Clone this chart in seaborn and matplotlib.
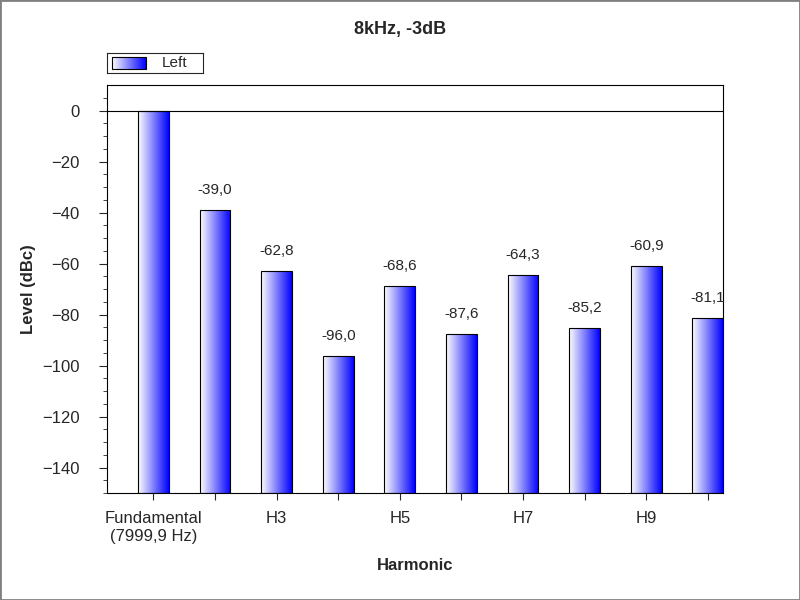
import numpy as np
import pandas as pd
import matplotlib
matplotlib.use('Agg')
import matplotlib.pyplot as plt
import seaborn as sns
from matplotlib.colors import LinearSegmentedColormap
from matplotlib.patches import Rectangle

harmonics = ['Fundamental\n(7999,9 Hz)', 'H2', 'H3', 'H4', 'H5', 'H6', 'H7', 'H8', 'H9', 'H10']
levels = [0.0, -39.0, -62.8, -96.0, -68.6, -87.6, -64.3, -85.2, -60.9, -81.1]
tick_labels = ['Fundamental\n(7999,9 Hz)', '', 'H3', '', 'H5', '', 'H7', '', 'H9', '']

base = -150
df = pd.DataFrame({'harmonic': harmonics, 'height': [v - base for v in levels]})

sns.set_style('white')
plt.rcParams['font.family'] = ['Liberation Sans', 'DejaVu Sans']

fig = plt.figure(figsize=(8, 6), dpi=100)
ax = fig.add_axes([0.134, 0.178, 0.770, 0.680])
sns.barplot(data=df, x='harmonic', y='height', bottom=base, width=0.5,
            color='#0000ff', ax=ax)

cmap = LinearSegmentedColormap.from_list('g', ['#ffffff', '#0000ff'])
grad = np.linspace(0, 1, 256).reshape(1, -1)
for p in ax.patches:
    x0, y0 = p.get_x(), p.get_y()
    w, h = p.get_width(), p.get_height()
    im = ax.imshow(grad, cmap=cmap, aspect='auto', extent=[x0, x0 + w, y0, y0 + h], zorder=2)
    im.set_clip_path(p)
    p.set_facecolor('none')
    p.set_edgecolor('black')
    p.set_linewidth(0.8)
    p.set_zorder(3)

for i, v in enumerate(levels):
    if i == 0:
        continue
    ax.text(i, v + 5, f'{v:.1f}'.replace('.', ','), ha='center', va='bottom', fontsize=11)

ax.axhline(0, color='black', lw=0.8, zorder=4)
ax.set_xlim(-0.75, 9.25)
ax.set_ylim(-150, 10)
ax.set_xticks(range(len(harmonics)))
ax.set_xticklabels(tick_labels, fontsize=12)
ax.set_yticks(np.arange(-140, 1, 20))
ax.set_yticks(np.arange(-150, 10, 5), minor=True)
ax.tick_params(axis='y', which='major', length=6, direction='out', labelsize=12, pad=14, left=True)
ax.tick_params(axis='y', which='minor', length=3, direction='out', left=True)
ax.tick_params(axis='x', length=5, direction='out', bottom=True, pad=8)
ax.set_xlabel('Harmonic', fontsize=12, fontweight='bold', labelpad=10)
ax.set_ylabel('Level (dBc)', fontsize=12, fontweight='bold')
for s in ax.spines.values():
    s.set_color('black')
    s.set_linewidth(0.8)

fig.suptitle('8kHz, -3dB', fontsize=13, fontweight='bold', y=0.965)

# legend box
lax = fig.add_axes([0.134, 0.878, 0.12, 0.033])
lax.set_xlim(0, 1)
lax.set_ylim(0, 1)
lax.set_xticks([])
lax.set_yticks([])
lax.imshow(grad, cmap=cmap, aspect='auto', extent=[0.05, 0.4, 0.2, 0.8])
lax.add_patch(Rectangle((0.05, 0.2), 0.35, 0.6, fill=False, edgecolor='black', lw=0.8))
lax.text(0.57, 0.5, 'Left', va='center', fontsize=11)
lax.set_xlim(0, 1)
lax.set_ylim(0, 1)

fig.patches.append(Rectangle((0, 0), 1, 1, transform=fig.transFigure, fill=False,
                             edgecolor='#808080', lw=2))
fig.savefig('out.png', dpi=100)
